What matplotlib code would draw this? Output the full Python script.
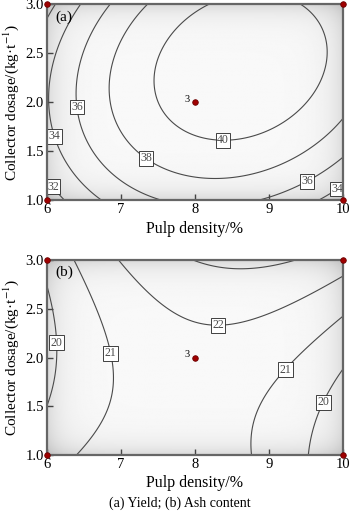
import numpy as np
import matplotlib
matplotlib.use("Agg")
import matplotlib.pyplot as plt

plt.rcParams['font.family'] = ['Liberation Serif', 'DejaVu Serif']
plt.rcParams['mathtext.fontset'] = 'stix'

# Points: pulp density (%), collector dosage (kg/t), level
yield_x = [8.18, 9.32, 7.46, 8.38, 9.78, 9.43, 7.89,
           7.35, 6.84, 7.36, 7.84, 8.61, 10.0,
           6.88, 6.40, 7.48, 8.88, 9.48, 10.0,
           6.42, 6.02, 6.09, 6.70, 9.69, 10.0,
           6.00, 6.20]
yield_y = [3.00, 3.00, 2.19, 1.61, 2.50, 1.92, 1.75,
           3.00, 2.12, 1.45, 1.24, 1.20, 1.70,
           3.00, 1.95, 1.00, 1.00, 1.24, 1.44,
           3.00, 2.06, 1.65, 1.00, 1.00, 1.19,
           1.31, 1.00]
yield_level = [40] * 7 + [38] * 6 + [36] * 6 + [34] * 6 + [32] * 2

ash_x = [6.99, 7.48, 8.31, 8.43, 9.06, 10.0,
         7.98, 8.52, 9.33,
         6.38, 6.85, 6.89, 6.43,
         6.00, 6.13, 6.00,
         10.0, 9.51, 9.20, 8.97, 8.81, 8.78,
         10.0, 9.71, 9.55]
ash_y = [3.00, 2.54, 2.37, 2.32, 2.47, 2.83,
         3.00, 2.90, 3.00,
         3.00, 2.04, 1.85, 1.00,
         2.71, 2.15, 1.51,
         2.40, 2.13, 1.89, 1.62, 1.34, 1.00,
         1.89, 1.55, 1.00]
ash_level = [22] * 6 + [23] * 3 + [21] * 4 + [20] * 3 + [21] * 6 + [20] * 3

yield_levels = [32, 34, 36, 38, 40]
ash_levels = [20, 21, 22, 23]

# Where the boxed level labels sit
yield_label_pos = [(6.09, 1.14), (6.09, 1.65), (6.40, 1.95), (7.36, 1.45),
                   (8.38, 1.63), (9.48, 1.24), (9.89, 1.15)]
ash_label_pos = [(6.13, 2.15), (6.85, 2.04), (8.31, 2.37), (9.20, 1.89), (9.71, 1.55)]

# Design points: factorial corners and the replicated centre point
corner_x = [6, 6, 10, 10]
corner_y = [1, 3, 1, 3]
center_x, center_y, center_reps = 8, 2, 3

xticks = [6, 7, 8, 9, 10]
yticks = [1.0, 1.5, 2.0, 2.5, 3.0]


def design(x, y):
    a = (np.asarray(x, float) - 8.0) / 2.0
    b = np.asarray(y, float) - 2.0
    return np.column_stack([np.ones_like(a), a, b, a * b, a * a, b * b])


def quadratic_surface(x, y, z, xs, ys):
    coef, *_ = np.linalg.lstsq(design(x, y), np.asarray(z, float), rcond=None)
    X, Y = np.meshgrid(xs, ys)
    Z = (design(X.ravel(), Y.ravel()) @ coef).reshape(X.shape)
    return X, Y, Z


def shade_image(n=300):
    u = np.linspace(0, 1, n)
    U, V = np.meshgrid(u, u)
    s = 0.975 - 0.12 * (np.exp(-U / 0.05) + np.exp(-(1 - U) / 0.05)) \
        - 0.12 * (np.exp(-V / 0.06) + np.exp(-(1 - V) / 0.06))
    return np.clip(s, 0, 1)


fig = plt.figure(figsize=(3.5, 5.16), dpi=100)
ax_a = fig.add_axes([0.134, 0.6124, 0.846, 0.3793])
ax_b = fig.add_axes([0.134, 0.1182, 0.846, 0.3779])

xs = np.linspace(6, 10, 241)
ys = np.linspace(1, 3, 241)

panels = [
    (ax_a, yield_x, yield_y, yield_level, yield_levels, yield_label_pos, '(a)'),
    (ax_b, ash_x, ash_y, ash_level, ash_levels, ash_label_pos, '(b)'),
]

for ax, px, py, pz, levels, lpos, tag in panels:
    ax.imshow(shade_image(), extent=[6, 10, 1, 3], origin='lower', aspect='auto',
              cmap='gray', vmin=0, vmax=1, interpolation='bilinear', zorder=0)
    X, Y, Z = quadratic_surface(px, py, pz, xs, ys)
    cs = ax.contour(X, Y, Z, levels=levels, colors='#4a4a4a', linewidths=0.8, zorder=2)
    labels = ax.clabel(cs, manual=lpos, inline=False, fontsize=8.5, fmt='%d')
    for t in labels:
        t.set_rotation(0)
        t.set_zorder(4)
        t.set_bbox(dict(boxstyle='square,pad=0.12', fc='white', ec='#222222', lw=0.6))

    ax.plot(corner_x, corner_y, ls='none', marker='o', ms=4, color='#a00000',
            mec='#6a0000', mew=0.6, clip_on=False, zorder=10)
    ax.plot([center_x], [center_y], ls='none', marker='o', ms=4, color='#a00000',
            mec='#6a0000', mew=0.6, zorder=10)
    ax.annotate(str(center_reps), (center_x, center_y), xytext=(-4, -1),
                textcoords='offset points', ha='right', va='bottom', fontsize=7.5)

    ax.set_xlim(6, 10)
    ax.set_ylim(1, 3)
    ax.set_xticks(xticks)
    ax.set_yticks(yticks)
    ax.set_xticklabels([str(v) for v in xticks])
    ax.set_yticklabels(['%.1f' % v for v in yticks])
    ax.tick_params(direction='in', length=4, width=1, color='#444444',
                   labelsize=10.5, pad=2)
    for sp in ax.spines.values():
        sp.set_color('#666666')
        sp.set_linewidth(1.6)
        sp.set_zorder(5)
    ax.set_xlabel('Pulp density/%', fontsize=11.5)
    ax.set_ylabel('Collector dosage/(kg·t$^{-1}$)', fontsize=11)
    ax.xaxis.set_label_coords(0.5, -0.105)
    ax.yaxis.set_label_coords(-0.088, 0.5)
    ax.text(0.03, 0.97, tag, transform=ax.transAxes, ha='left', va='top',
            fontsize=11, zorder=6)

fig.text(0.514, 0.025, '(a) Yield; (b) Ash content', ha='center', va='center',
         fontsize=10)

fig.savefig('out.png', dpi=100)
